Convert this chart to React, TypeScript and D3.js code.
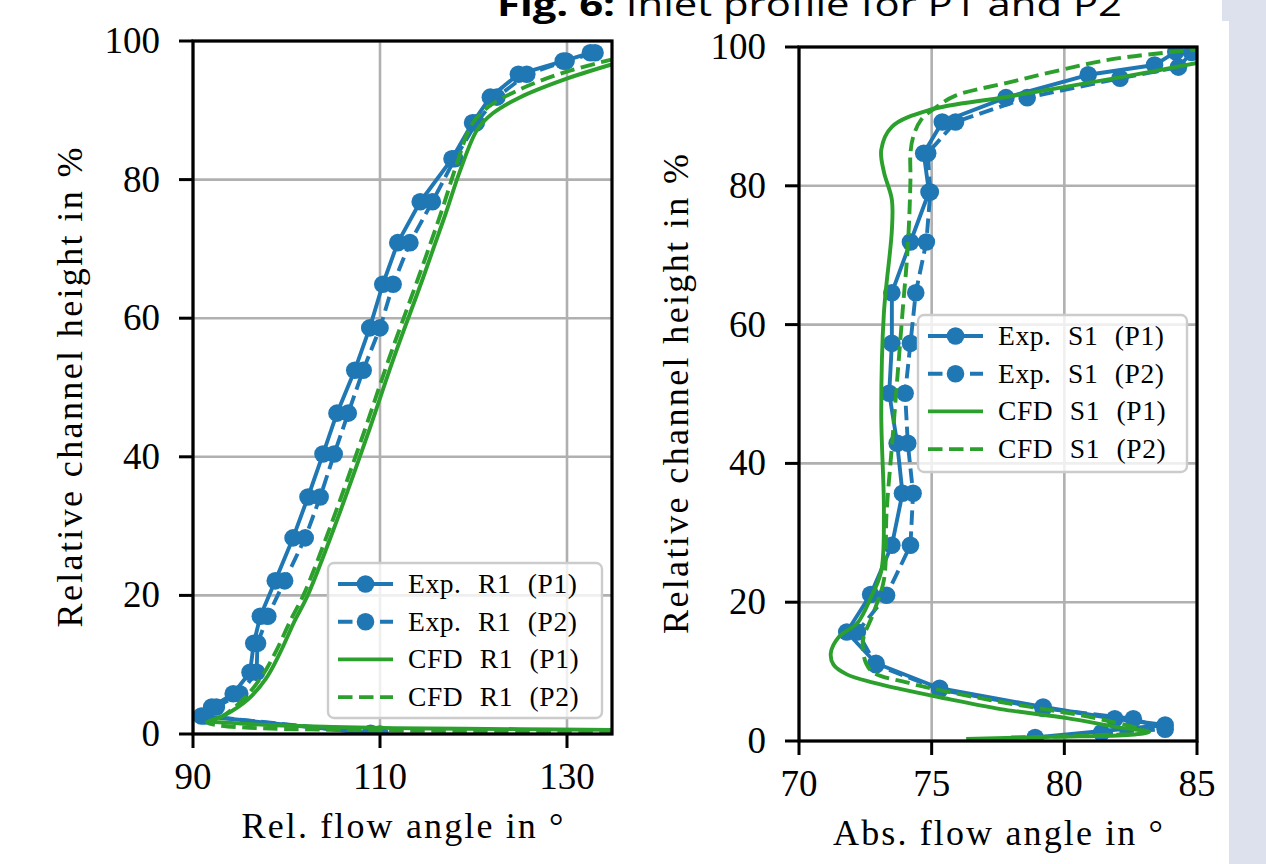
import React from 'react';
import * as d3 from 'd3';

type Pt = [number, number];

const BLUE = '#1f77b4';
const GREEN = '#2ca02c';
const SERIF = '"Liberation Serif", "DejaVu Serif", serif';

// rotor R1 inlet: [rel. flow angle in deg, channel height in %]
const expR1P1: Pt[] = [
  [109, 0.1], [90.9, 2.6], [92.0, 3.9], [94.3, 5.8], [96.1, 8.9], [96.5, 13.1], [97.2, 17.0],
  [98.8, 22.1], [100.7, 28.3], [102.3, 34.2], [103.9, 40.4], [105.4, 46.3], [107.3, 52.5],
  [108.9, 58.6], [110.3, 64.9], [111.9, 70.9], [114.3, 76.8], [117.7, 83.0], [119.9, 88.2],
  [121.8, 91.9], [124.8, 95.2], [129.6, 97.1], [132.5, 98.3],
];
const expR1P2: Pt[] = [
  [110, 0.0], [91.3, 2.6], [92.5, 3.9], [95.0, 5.8], [96.8, 8.9], [96.9, 13.1], [98.0, 17.0],
  [99.8, 22.1], [102.0, 28.3], [103.6, 34.2], [105.1, 40.4], [106.6, 46.3], [108.2, 52.5],
  [110.0, 58.6], [111.4, 64.9], [113.2, 70.9], [115.6, 76.8], [118.0, 83.0], [120.3, 88.2],
  [122.5, 91.9], [125.7, 95.2], [129.9, 97.1], [133.0, 98.3],
];
const cfdR1P1: Pt[] = [
  [135, 0.6], [125, 0.7], [115, 0.8], [105, 1.0], [98, 1.3], [94, 1.6], [92.0, 1.9],
  [93.5, 2.8], [95.8, 4.9], [97.8, 8.0], [99.3, 11.7], [100.9, 16.4], [102.2, 19.8],
  [105.0, 29.4], [108.6, 42.9], [111.4, 54.0], [114.6, 65.8], [117.0, 75.0], [118.6, 81.4],
  [120.4, 87.2], [122.1, 89.6], [125.0, 91.9], [129.6, 94.4], [135, 96.7],
];
const cfdR1P2: Pt[] = [
  [135, 0.3], [120, 0.4], [105, 0.6], [96, 0.9], [92.5, 1.3], [91.5, 1.7],
  [93.2, 2.6], [95.5, 5.2], [97.4, 8.4], [98.9, 12.0], [100.5, 16.6], [101.8, 20.0],
  [104.6, 29.6], [108.2, 43.2], [111.0, 54.3], [114.2, 66.2], [116.6, 75.5], [118.2, 82.2],
  [119.8, 87.9], [121.6, 90.5], [124.6, 92.8], [129.3, 95.3], [135, 97.4],
];

// stator S1 inlet: [abs. flow angle in deg, channel height in %]
const expS1P1: Pt[] = [
  [84.2, 99.3], [83.4, 97.4], [80.9, 96.0], [77.8, 92.7], [75.4, 89.2], [74.7, 84.7],
  [74.9, 79.1], [74.2, 71.9], [73.5, 64.6], [73.5, 57.3], [73.4, 50.1], [73.7, 42.9],
  [73.9, 35.7], [73.5, 28.2], [72.7, 21.1], [71.8, 15.7], [72.9, 11.2], [75.3, 7.6],
  [79.2, 4.9], [81.9, 3.2], [83.8, 2.3], [78.9, 0.5],
];
const expS1P2: Pt[] = [
  [84.8, 99.2], [84.3, 97.1], [82.1, 95.5], [78.6, 92.7], [75.9, 89.2], [74.85, 84.7],
  [74.95, 79.1], [74.8, 71.9], [74.4, 64.6], [74.2, 57.3], [74.0, 50.1], [74.1, 42.9],
  [74.3, 35.7], [74.2, 28.2], [73.3, 21.0], [72.2, 15.7], [72.9, 11.0], [75.3, 7.4],
  [79.2, 4.7], [82.6, 3.2], [83.8, 1.7], [81.4, 1.2],
];
const cfdS1P1: Pt[] = [
  [76.3, 0.3], [79.5, 0.6], [82.5, 0.9], [83.2, 1.3], [82.0, 2.0], [80.1, 3.3], [77.6, 4.6],
  [75.3, 6.3], [73.8, 7.5], [72.8, 8.4], [71.8, 9.6], [71.3, 11.0], [71.2, 12.7], [71.5, 15.0],
  [72.2, 17.0], [72.7, 20.6], [73.1, 24.5], [73.2, 32.9], [73.1, 47.3], [73.2, 61.7],
  [73.5, 73.6], [73.5, 78.0], [73.2, 82.0], [73.1, 85.2], [73.5, 88.5], [74.9, 90.9],
  [77.8, 92.8], [82.2, 95.7], [85.0, 97.7],
];
const cfdS1P2: Pt[] = [
  [78.0, 0.5], [81.0, 0.8], [83.1, 1.3], [82.8, 1.8], [80.9, 3.5], [77.2, 5.9], [74.1, 8.4],
  [72.7, 10.2], [72.4, 14.1], [72.8, 18.4], [73.2, 23.2], [73.3, 32.9], [73.5, 42.4],
  [73.7, 52.0], [73.9, 61.7], [74.1, 71.2], [74.2, 80.8], [74.2, 84.7], [74.3, 87.0],
  [74.6, 89.5], [75.2, 91.4], [75.9, 93.0], [77.8, 94.8], [81.6, 98.1], [84.1, 99.3],
  [85.0, 99.6],
];

const yTicks = [0, 20, 40, 60, 80, 100];
const r1Ticks = [90, 110, 130];
const s1Ticks = [70, 75, 80, 85];
const r1Labels = ['Exp. R1 (P1)', 'Exp. R1 (P2)', 'CFD R1 (P1)', 'CFD R1 (P2)'];
const s1Labels = ['Exp. S1 (P1)', 'Exp. S1 (P2)', 'CFD S1 (P1)', 'CFD S1 (P2)'];

const LW = 3.9;
const DASH = '14.5 6.5';
const seriesStyle = [
  { color: BLUE, dash: undefined, marker: true, smooth: false },
  { color: BLUE, dash: DASH, marker: true, smooth: false },
  { color: GREEN, dash: undefined, marker: false, smooth: true },
  { color: GREEN, dash: DASH, marker: false, smooth: true },
];

function Panel(props: any) {
  const { id, left, right, top, bottom, xDomain, xTicks, xLabel, yLabel, data, labels, legend } = props;
  const x = d3.scaleLinear().domain(xDomain).range([left, right]);
  const y = d3.scaleLinear().domain([0, 100]).range([bottom, top]);
  const lineLin = d3.line<Pt>().x(d => x(d[0])).y(d => y(d[1]));
  const lineSmooth = d3.line<Pt>().x(d => x(d[0])).y(d => y(d[1])).curve(d3.curveCatmullRom.alpha(0.5));

  return (
    <g>
      <defs>
        <clipPath id={id}>
          <rect x={left} y={top} width={right - left} height={bottom - top} />
        </clipPath>
      </defs>
      <rect x={left} y={top} width={right - left} height={bottom - top} fill="#fff" />
      {/* grid */}
      {xTicks.map((t: number) => (
        <line key={'gx' + t} x1={x(t)} x2={x(t)} y1={top} y2={bottom} stroke="#b0b0b0" strokeWidth={2.6} />
      ))}
      {yTicks.map(t => (
        <line key={'gy' + t} x1={left} x2={right} y1={y(t)} y2={y(t)} stroke="#b0b0b0" strokeWidth={2.6} />
      ))}
      {/* series */}
      <g clipPath={`url(#${id})`}>
        {data.map((pts: Pt[], i: number) => {
          const s = seriesStyle[i];
          return (
            <g key={i}>
              <path d={(s.smooth ? lineSmooth : lineLin)(pts) || ''} fill="none" stroke={s.color}
                strokeWidth={LW} strokeDasharray={s.dash} strokeLinejoin="round" />
              {s.marker && pts.map((p, j) => (
                <circle key={j} cx={x(p[0])} cy={y(p[1])} r={8.8} fill={s.color} />
              ))}
            </g>
          );
        })}
      </g>
      {/* spines */}
      <rect x={left} y={top} width={right - left} height={bottom - top} fill="none" stroke="#000" strokeWidth={3.2} />
      {/* ticks */}
      {xTicks.map((t: number) => (
        <g key={'tx' + t}>
          <line x1={x(t)} x2={x(t)} y1={bottom} y2={bottom + 14} stroke="#000" strokeWidth={3} />
          <text x={x(t)} y={bottom + 55} textAnchor="middle" fontFamily={SERIF} fontSize={37}>{t}</text>
        </g>
      ))}
      {yTicks.map(t => (
        <g key={'ty' + t}>
          <line x1={left - 14} x2={left} y1={y(t)} y2={y(t)} stroke="#000" strokeWidth={3} />
          <text x={left - 33} y={y(t) + 12} textAnchor="end" fontFamily={SERIF} fontSize={37}>{t}</text>
        </g>
      ))}
      <text x={(left + right) / 2} y={bottom + 104} textAnchor="middle" fontFamily={SERIF} fontSize={36}
        textLength={xLabel.w} lengthAdjust="spacing">{xLabel.text}</text>
      <text transform={`translate(${yLabel.x},${(top + bottom) / 2}) rotate(-90)`} textAnchor="middle"
        fontFamily={SERIF} fontSize={36} textLength={480} lengthAdjust="spacing">{yLabel.text}</text>
      {/* legend */}
      <g>
        <rect x={legend.x} y={legend.y} width={legend.w} height={legend.h} rx={6}
          fill="#fff" fillOpacity={0.8} stroke="#cccccc" strokeWidth={2.4} />
        {labels.map((lab: string, i: number) => {
          const s = seriesStyle[i];
          const cy = legend.y + 21 + i * 37.7;
          const lx = legend.x + 10;
          return (
            <g key={lab}>
              <line x1={lx} x2={lx + 55} y1={cy} y2={cy} stroke={s.color} strokeWidth={LW} strokeDasharray={s.dash} />
              {s.marker && <circle cx={lx + 27.5} cy={cy} r={8.8} fill={s.color} />}
              <text x={legend.x + 80} y={cy + 9} fontFamily={SERIF} fontSize={27.5} wordSpacing={9}
                letterSpacing={0.6}>{lab}</text>
            </g>
          );
        })}
      </g>
    </g>
  );
}

export default function App() {
  return (
    <svg width={1266} height={864} style={{ position: 'absolute', left: 0, top: 0, background: '#fff' }}>
      <rect x={0} y={0} width={1266} height={864} fill="#fff" />
      <rect x={1229} y={0} width={37} height={864} fill="#dde1ee" />
      <rect x={1222} y={0} width={10} height={21} fill="#dde1ee" />
      <text x={497} y={16} fontFamily='"Open Sans", "Liberation Sans", sans-serif' fontSize={32}
        textLength={625} lengthAdjust="spacingAndGlyphs">
        <tspan fontWeight="bold">Fig. 6:</tspan> Inlet profile for P1 and P2
      </text>
      <Panel id="clipR1" left={193} right={612} top={41} bottom={734}
        xDomain={[90, 90 + 419 / 9.35]} xTicks={r1Ticks}
        xLabel={{ text: 'Rel. flow angle in °', w: 322 }}
        yLabel={{ text: 'Relative channel height in %', x: 82 }}
        data={[expR1P1, expR1P2, cfdR1P1, cfdR1P2]} labels={r1Labels}
        legend={{ x: 328, y: 563, w: 274, h: 155 }} />
      <Panel id="clipS1" left={799} right={1197} top={47} bottom={741}
        xDomain={[70, 85]} xTicks={s1Ticks}
        xLabel={{ text: 'Abs. flow angle in °', w: 330 }}
        yLabel={{ text: 'Relative channel height in %', x: 688 }}
        data={[expS1P1, expS1P2, cfdS1P1, cfdS1P2]} labels={s1Labels}
        legend={{ x: 918, y: 315, w: 269, h: 157 }} />
    </svg>
  );
}
